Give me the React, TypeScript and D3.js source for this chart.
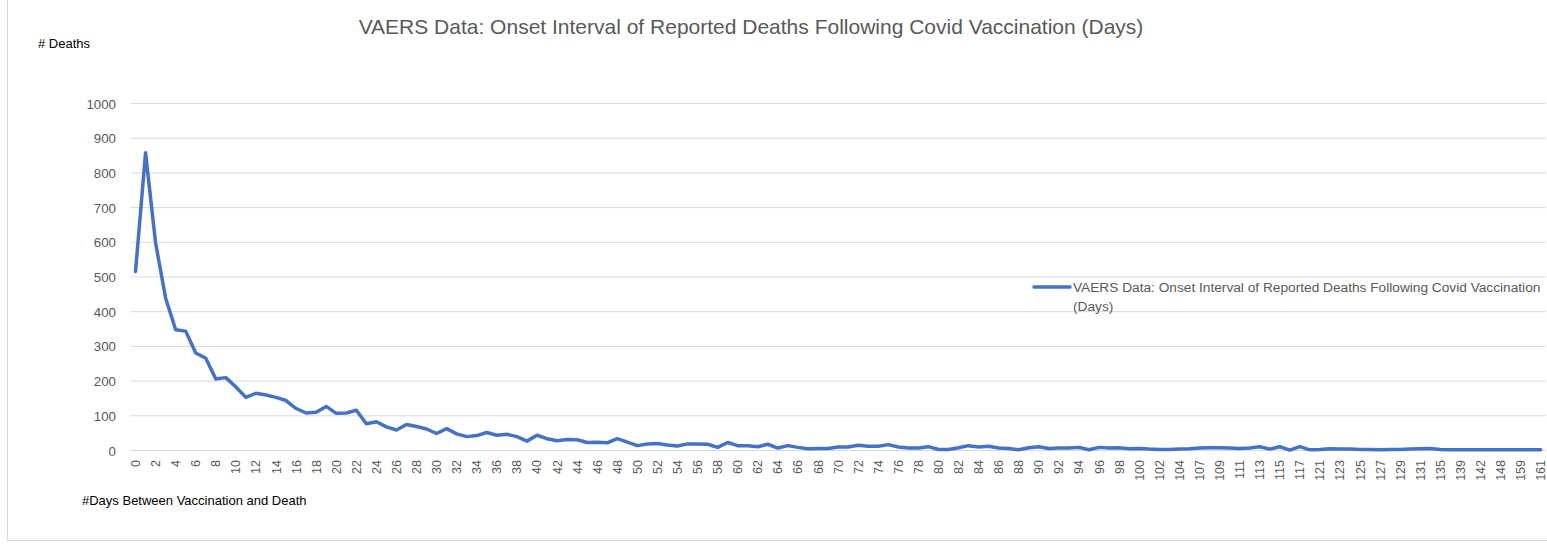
import { useEffect, useRef } from 'react'
import * as d3 from 'd3'

const chartTitle = 'VAERS Data: Onset Interval of Reported Deaths Following Covid Vaccination (Days)'
const legendLines = ['VAERS Data: Onset Interval of Reported Deaths Following Covid Vaccination', '(Days)']

// day numbers as they appear in the category axis (gaps after 104)
const days = [
  0, 1, 2, 3, 4, 5, 6, 7, 8, 9, 10, 11, 12, 13, 14, 15, 16, 17, 18, 19,
  20, 21, 22, 23, 24, 25, 26, 27, 28, 29, 30, 31, 32, 33, 34, 35, 36, 37, 38, 39,
  40, 41, 42, 43, 44, 45, 46, 47, 48, 49, 50, 51, 52, 53, 54, 55, 56, 57, 58, 59,
  60, 61, 62, 63, 64, 65, 66, 67, 68, 69, 70, 71, 72, 73, 74, 75, 76, 77, 78, 79,
  80, 81, 82, 83, 84, 85, 86, 87, 88, 89, 90, 91, 92, 93, 94, 95, 96, 97, 98, 99,
  100, 101, 102, 103, 104, 105, 107, 108, 109, 110, 111, 112, 113, 114, 115, 116,
  117, 118, 121, 122, 123, 124, 125, 126, 127, 128, 129, 130, 131, 133, 135, 137,
  139, 140, 142, 145, 148, 150, 159, 160, 161,
]

const deaths = [
  516, 858, 598, 439, 348, 344, 281, 266, 206, 210, 183, 153, 165, 160, 153, 144, 121, 108, 110, 127,
  107, 108, 116, 77, 83, 68, 59, 75, 69, 62, 49, 63, 48, 40, 43, 52, 44, 47, 40, 27,
  44, 34, 28, 32, 31, 23, 24, 22, 34, 24, 14, 19, 20, 16, 13, 19, 19, 18, 9, 23,
  14, 14, 11, 18, 7, 14, 9, 5, 6, 6, 10, 10, 15, 12, 12, 17, 10, 7, 7, 11,
  3, 3, 8, 14, 10, 12, 7, 6, 2, 8, 11, 6, 7, 7, 9, 2, 9, 7, 8, 5,
  6, 4, 3, 3, 4, 5, 7, 8, 8, 7, 6, 7, 11, 4, 11, 1,
  11, 2, 3, 5, 4, 4, 3, 3, 2, 3, 3, 4, 5, 6, 3, 2,
  2, 2, 2, 2, 2, 2, 2, 2, 2,
]

const yTicks = [0, 100, 200, 300, 400, 500, 600, 700, 800, 900, 1000]

export default function App() {
  const svgRef = useRef<SVGSVGElement>(null)

  useEffect(() => {
    if (!svgRef.current) return
    const svg = d3.select(svgRef.current)
    svg.selectAll('*').remove()

    const width = 1547
    const height = 544
    const plot = { left: 130.5, right: 1545.7, top: 103.5, bottom: 450.5 }
    const font = "'Liberation Sans', Arial, sans-serif"
    const grey = '#595959'
    const blue = '#4472C4'

    svg.append('rect')
      .attr('x', 7.5).attr('y', -2)
      .attr('width', width).attr('height', height - 1.5)
      .attr('fill', '#fff').attr('stroke', '#d9d9d9')

    const x = d3.scaleBand<number>()
      .domain(d3.range(days.length))
      .range([plot.left, plot.right])
    const y = d3.scaleLinear().domain([0, 1000]).range([plot.bottom, plot.top])
    const cx = (i: number) => x(i)! + x.bandwidth() / 2

    // title
    svg.append('text')
      .attr('x', 751).attr('y', 34)
      .attr('text-anchor', 'middle')
      .attr('font-family', font).attr('font-size', 21)
      .attr('fill', grey)
      .text(chartTitle)

    svg.append('text')
      .attr('x', 38).attr('y', 48)
      .attr('font-family', font).attr('font-size', 13)
      .attr('fill', '#000')
      .text('# Deaths')

    // gridlines
    svg.append('g')
      .selectAll('line')
      .data(yTicks)
      .join('line')
      .attr('x1', plot.left).attr('x2', plot.right)
      .attr('y1', (d) => y(d)).attr('y2', (d) => y(d))
      .attr('stroke', '#d9d9d9').attr('stroke-width', 1)

    svg.append('g')
      .selectAll('text')
      .data(yTicks)
      .join('text')
      .attr('x', 116).attr('y', (d) => y(d) + 5)
      .attr('text-anchor', 'end')
      .attr('font-family', font).attr('font-size', 13.3)
      .attr('fill', grey)
      .text((d) => d)

    // x labels, every other category, rotated
    svg.append('g')
      .selectAll('text')
      .data(d3.range(0, days.length, 2))
      .join('text')
      .attr('transform', (i) => `translate(${cx(i) + 4.5},460) rotate(-90)`)
      .attr('text-anchor', 'end')
      .attr('font-family', font).attr('font-size', 12.5)
      .attr('fill', grey)
      .text((i) => days[i])

    svg.append('text')
      .attr('x', 82).attr('y', 505)
      .attr('font-family', font).attr('font-size', 13)
      .attr('fill', '#000')
      .text('#Days Between Vaccination and Death')

    const line = d3.line<number>()
      .x((_, i) => cx(i))
      .y((d) => y(d))

    svg.append('path')
      .datum(deaths)
      .attr('fill', 'none')
      .attr('stroke', blue)
      .attr('stroke-width', 3.5)
      .attr('stroke-linejoin', 'round')
      .attr('stroke-linecap', 'round')
      .attr('d', line)

    // legend
    svg.append('line')
      .attr('x1', 1034).attr('x2', 1070)
      .attr('y1', 287).attr('y2', 287)
      .attr('stroke', blue).attr('stroke-width', 3.5)
      .attr('stroke-linecap', 'round')

    svg.append('g')
      .selectAll('text')
      .data(legendLines)
      .join('text')
      .attr('x', 1073).attr('y', (_, i) => 292 + i * 19)
      .attr('font-family', font).attr('font-size', 13.7)
      .attr('fill', grey)
      .text((d) => d)
  }, [])

  return (
    <svg
      ref={svgRef}
      width={1547}
      height={544}
      style={{ position: 'absolute', left: 0, top: 0 }}
    />
  )
}
